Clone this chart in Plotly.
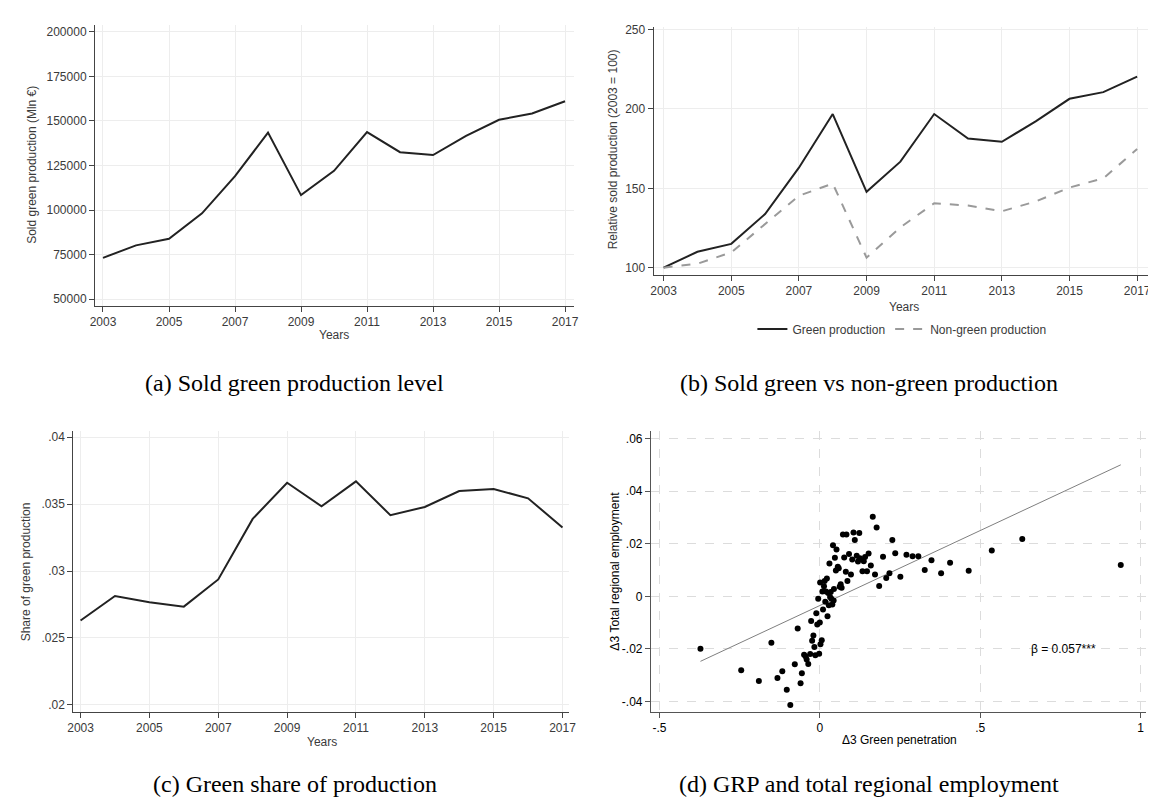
import plotly.graph_objects as go

# ---------------- data ----------------
years = list(range(2003, 2018))
year_ticks = [2003, 2005, 2007, 2009, 2011, 2013, 2015, 2017]

green_level = [73200, 80200, 83900, 98200, 119000, 143500, 108400, 122000,
               143800, 132500, 130900, 141600, 150700, 154200, 161100]

green_index = [100, 110, 115, 133.8, 163, 196.8, 147.8, 166.8,
               196.8, 181.4, 179.3, 192.2, 206.4, 210.6, 220.4]
nongreen_index = [100, 102.5, 109.6, 127.5, 145.3, 153, 106.3, 125.4,
                  140.6, 139.1, 135.5, 141.7, 150.5, 156.3, 174.7]

green_share = [0.0263, 0.02813, 0.02766, 0.02734, 0.02937, 0.03389, 0.03659, 0.03483,
               0.03669, 0.03417, 0.03478, 0.03597, 0.03612, 0.03543, 0.03325]

d_green_pen = [-0.372, -0.245, -0.190, -0.151, -0.132, -0.117, -0.103, -0.092, -0.078, -0.069,
               -0.060, -0.056, -0.049, -0.044, -0.041, -0.036, -0.030, -0.027, -0.024, -0.020,
               -0.017, -0.014, -0.011, -0.008, -0.005, -0.002, 0.000, 0.002, 0.006, 0.001,
               0.008, 0.010, 0.013, 0.015, 0.017, 0.019, 0.022, 0.024, 0.026, 0.028,
               0.030, 0.032, 0.034, 0.036, 0.039, 0.041, 0.043, 0.044, 0.047, 0.050,
               0.052, 0.056, 0.059, 0.062, 0.065, 0.068, 0.072, 0.076, 0.081, 0.083,
               0.086, 0.091, 0.097, 0.101, 0.105, 0.109, 0.115, 0.119, 0.123, 0.125,
               0.133, 0.137, 0.141, 0.147, 0.152, 0.159, 0.165, 0.172, 0.177, 0.185,
               0.197, 0.207, 0.217, 0.226, 0.235, 0.251, 0.270, 0.289, 0.307, 0.327,
               0.348, 0.378, 0.406, 0.464, 0.536, 0.631, 0.938]
d_total_emp = [-0.0199, -0.0281, -0.0322, -0.0176, -0.0310, -0.0285, -0.0355, -0.0413, -0.0258, -0.0122,
               -0.0330, -0.0292, -0.0222, -0.0229, -0.0240, -0.0257, -0.0219, -0.0094, -0.0169, -0.0149,
               -0.0193, -0.0224, -0.0064, -0.0107, -0.0009, -0.0218, -0.0099, -0.0182, -0.0167, 0.0053,
               0.0018, -0.0050, 0.0038, 0.0058, -0.0021, 0.0018, 0.0068, -0.0076, 0.0013, -0.0034,
               0.0125, -0.0003, 0.0016, -0.0009, -0.0031, 0.0194, -0.0016, 0.0028, 0.0147, 0.0098,
               0.0178, 0.0112, 0.0107, 0.0036, 0.0046, 0.0033, 0.0235, 0.0148, 0.0093, 0.0235,
               0.0058, 0.0161, 0.0083, 0.0140, 0.0243, 0.0214, 0.0154, 0.0132, 0.0241, 0.0145,
               0.0095, 0.0133, 0.0149, 0.0095, 0.0163, 0.0117, 0.0302, 0.0083, 0.0262, 0.0039,
               0.0150, 0.0070, 0.0088, 0.0214, 0.0164, 0.0074, 0.0158, 0.0152, 0.0152, 0.0100,
               0.0137, 0.0088, 0.0128, 0.0097, 0.0174, 0.0218, 0.0119]

fit_slope = 0.057
fit_intercept = -0.0035
beta_label = "β = 0.057***"

captions = ["(a) Sold green production level",
            "(b) Sold green vs non-green production",
            "(c) Green share of production",
            "(d) GRP and total regional employment"]

# ---------------- figure ----------------
W, H = 1156, 798
def dx(a, b):
    return [a / W, b / W]
def dy(top, bottom):
    return [1 - bottom / H, 1 - top / H]
def px(x):
    return x / W
def py(y):
    return 1 - y / H

fig = go.Figure()

fig.add_trace(go.Scatter(x=years, y=green_level, mode="lines",
                         line=dict(color="#222222", width=2), showlegend=False,
                         xaxis="x", yaxis="y"))
fig.add_trace(go.Scatter(x=years, y=green_index, mode="lines", name="Green production",
                         line=dict(color="#222222", width=2), xaxis="x2", yaxis="y2"))
fig.add_trace(go.Scatter(x=years, y=nongreen_index, mode="lines", name="Non-green production",
                         line=dict(color="#9a9a9a", width=2, dash="dash"), xaxis="x2", yaxis="y2"))
fig.add_trace(go.Scatter(x=years, y=green_share, mode="lines",
                         line=dict(color="#222222", width=2), showlegend=False,
                         xaxis="x3", yaxis="y3"))

xf = [min(d_green_pen), max(d_green_pen)]
yf = [fit_intercept + fit_slope * v for v in xf]
fig.add_trace(go.Scatter(x=xf, y=yf, mode="lines", line=dict(color="#7f7f7f", width=1),
                         showlegend=False, xaxis="x4", yaxis="y4"))
fig.add_trace(go.Scatter(x=d_green_pen, y=d_total_emp, mode="markers",
                         marker=dict(color="black", size=6), showlegend=False,
                         xaxis="x4", yaxis="y4"))

sans = "Liberation Sans, Arial, sans-serif"
tick_font = dict(family=sans, size=12, color="#3a3a3a")
common = dict(showline=True, linecolor="#444", linewidth=1.2, ticks="outside",
              ticklen=5, tickcolor="#444", tickwidth=1, zeroline=False,
              showgrid=True, gridcolor="#ededed", gridwidth=1, tickfont=tick_font,
              mirror=False, fixedrange=True)

fig.update_layout(
    width=W, height=H, margin=dict(l=0, r=0, t=0, b=0),
    paper_bgcolor="white", plot_bgcolor="white",
    xaxis=dict(domain=dx(82, 566), range=[2002.76, 2017.26], tickvals=year_ticks,
               anchor="y", **common),
    yaxis=dict(domain=dy(13.3, 295.7), range=[46264, 203736],
               tickvals=[50000, 75000, 100000, 125000, 150000, 175000, 200000],
               ticktext=["50000", "75000", "100000", "125000", "150000", "175000", "200000"],
               anchor="x", **common),
    xaxis2=dict(domain=dx(647, 1152), range=[2002.708, 2017.47], tickvals=year_ticks,
                anchor="y2", **common),
    yaxis2=dict(domain=dy(15, 264.3), range=[95.6, 251.7], tickvals=[100, 150, 200, 250],
                anchor="x2", **common),
    xaxis3=dict(domain=dx(60, 561), range=[2002.79, 2017.18], tickvals=year_ticks,
                anchor="y3", **common),
    yaxis3=dict(domain=dy(421.7, 704.3), range=[0.01948, 0.04045],
                tickvals=[0.02, 0.025, 0.03, 0.035, 0.04],
                ticktext=[".02", ".025", ".03", ".035", ".04"], anchor="x3", **common),
    legend=dict(orientation="h", x=px(898), y=py(319), xanchor="center", yanchor="middle",
                font=dict(family=sans, size=12, color="#3a3a3a"),
                bgcolor="rgba(0,0,0,0)"),
)

common_d = dict(common)
common_d.update(gridcolor="#dcdcdc", griddash="dash", linecolor="#555", tickcolor="#555",
                tickfont=dict(family=sans, size=12, color="black"))
fig.update_layout(
    xaxis4=dict(domain=dx(644.3, 1145), range=[-0.526, 1.017], tickvals=[-0.5, 0, 0.5, 1],
                ticktext=["-.5", "0", ".5", "1"], anchor="y4", **common_d),
    yaxis4=dict(domain=dy(421.7, 704), range=[-0.0438, 0.0628],
                tickvals=[-0.04, -0.02, 0, 0.02, 0.04, 0.06],
                ticktext=["-.04", "-.02", "0", ".02", ".04", ".06"], anchor="x4", **common_d),
)

lab_font = dict(family=sans, size=12, color="#3a3a3a")
lab_font_d = dict(family=sans, size=12, color="black")
cap_font = dict(family="Liberation Serif, Times New Roman, serif", size=24, color="black")

ann = []
def add_text(text, x, y, font, angle=0):
    ann.append(dict(text=text, x=px(x), y=py(y), xref="paper", yref="paper",
                    showarrow=False, font=font, textangle=angle,
                    xanchor="center", yanchor="middle"))

# axis titles
add_text("Sold green production (Mln €)", 18, 154, lab_font, -90)
add_text("Years", 324, 325, lab_font)
add_text("Relative sold production (2003 = 100)", 606, 138, lab_font, -90)
add_text("Years", 900, 297, lab_font)
add_text("Share of green production", 13, 563, lab_font, -90)
add_text("Years", 311, 735, lab_font)
add_text("Δ3 Total regional employment", 608, 563, lab_font_d, -90)
add_text("Δ3 Green penetration", 896, 733, lab_font_d)

# captions
add_text(captions[0], 284, 373, cap_font)
add_text(captions[1], 865, 373, cap_font)
add_text(captions[2], 284, 777, cap_font)
add_text(captions[3], 865, 777, cap_font)

fig.update_layout(annotations=ann)

# beta annotation in data coordinates
fig.add_annotation(text=beta_label, x=0.76, y=-0.02, xref="x4", yref="y4",
                   showarrow=False, font=lab_font_d, xanchor="center", yanchor="middle")

fig.write_html("out.html")
